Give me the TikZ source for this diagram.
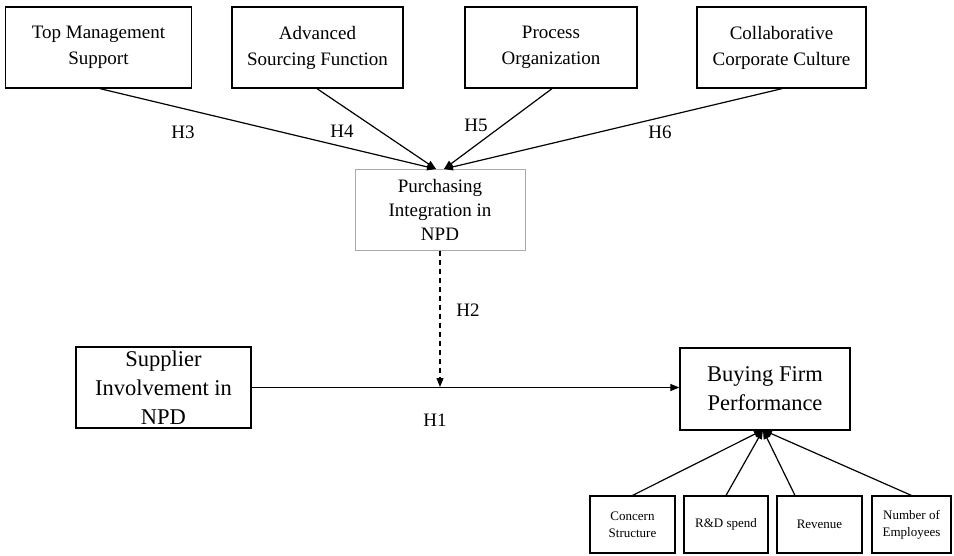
\documentclass[tikz,border=0pt]{standalone}
\usepackage{fontspec}
\setmainfont{Liberation Serif}
\usetikzlibrary{arrows.meta}
\definecolor{boxgray}{RGB}{170,170,170}
\tikzset{
  box/.style={draw=black, line width=1.3pt, align=center, inner sep=0pt,
    font=\fontsize{19}{26}\selectfont},
  bigbox/.style={box, font=\fontsize{22.5}{29}\selectfont},
  smallbox/.style={box, line width=1.1pt, font=\fontsize{13}{17}\selectfont},
  hlab/.style={font=\fontsize{19}{22}\selectfont, inner sep=0pt},
  conn/.style={line width=1.2pt, -{Triangle[length=9pt,width=7pt]}},
}
\begin{document}
\begin{tikzpicture}[x=1pt,y=-1pt]
\useasboundingbox (0,0) rectangle (954,555);
% top boxes
\node[box, minimum width=186, minimum height=81] (tms) at (98.5,47.5) {Top Management\\Support};
\node[box, minimum width=171, minimum height=81] (asf) at (317.5,47.5) {Advanced\\Sourcing Function};
\node[box, minimum width=172, minimum height=81] (po) at (551,47.5) {Process\\Organization};
\node[box, minimum width=169, minimum height=81] (ccc) at (781.5,47.5) {Collaborative\\Corporate Culture};
% middle
\node[box, draw=boxgray, line width=1pt, minimum width=170, minimum height=81,
  font=\fontsize{19}{24}\selectfont] (pi) at (440,209.5) {Purchasing\\Integration in\\NPD};
\node[bigbox, minimum width=175, minimum height=81] (si) at (163.5,387.5) {Supplier\\Involvement in\\NPD};
\node[bigbox, minimum width=170, minimum height=82] (bf) at (765,389) {Buying Firm\\Performance};
% bottom boxes
\node[smallbox, minimum width=85, minimum height=57] (cs) at (632.5,524.5) {Concern\\Structure};
\node[smallbox, minimum width=84, minimum height=57] (rd) at (726,524.5) {R\&D spend};
\node[smallbox, minimum width=85, minimum height=57] (rev) at (819.5,524.5) {Revenue};
\node[smallbox, minimum width=79, minimum height=57] (ne) at (911.5,524.5) {Number of\\Employees};
% coordinates
\coordinate (pitl) at (436,169);
\coordinate (pitr) at (444,169);
\coordinate (join) at (440,387);
\coordinate (bfin) at (763,430);
% top arrows
\draw[conn] (tms.south -| 100,0) -- (pitl);
\draw[conn] (asf.south -| 317,0) -- (pitl);
\draw[conn] (po.south -| 552,0) -- (pitr);
\draw[conn] (ccc.south -| 782,0) -- (pitr);
% H labels
\node[hlab] (h3) at (183,132) {H3};
\node[hlab] (h4) at (342,131) {H4};
\node[hlab] (h5) at (476,125) {H5};
\node[hlab] (h6) at (660,132) {H6};
\node[hlab] (h2) at (468,310) {H2};
\node[hlab] (h1) at (435,420) {H1};
% moderation
\draw[line width=1.2pt, dashed, dash pattern=on 5pt off 4pt, -{Triangle[length=9pt,width=7pt]}] (pi.south) -- (join);
\draw[conn] (si.east) -- (bf.west |- si.east);
% indicators
\draw[conn] (cs.north) -- (bfin);
\draw[conn] (rd.north) -- (bfin);
\draw[conn] (rev.north -| 795,0) -- (bfin);
\draw[conn] (ne.north) -- (bfin);
\end{tikzpicture}
\end{document}
